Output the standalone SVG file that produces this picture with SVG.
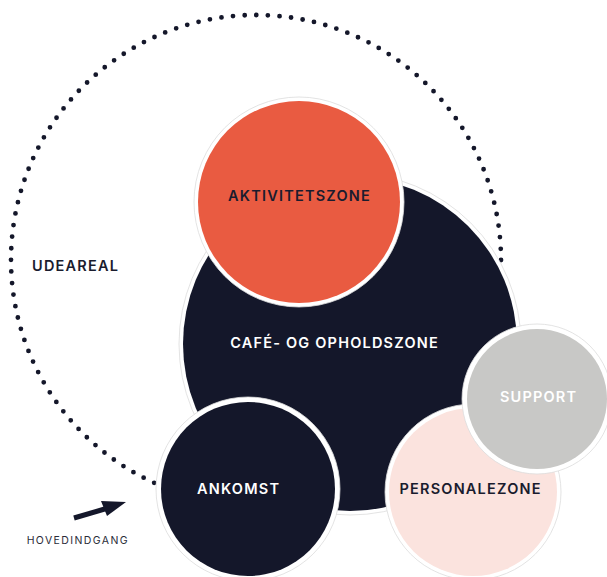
<svg xmlns="http://www.w3.org/2000/svg" width="607" height="577" viewBox="0 0 607 577">
<style>
.ring{fill:#fff;stroke:#dcdcdc;stroke-width:0.8}
.lbl{font-family:Inter,"Liberation Sans",sans-serif;font-weight:600;font-size:14.5px;letter-spacing:1.2px;text-anchor:middle;dominant-baseline:central}
.dark{fill:#1a1c2e}
.light{fill:#fff}
</style>
<rect width="607" height="577" fill="#fff"/>
<g id="connectors">
<circle cx="256" cy="260" r="245" fill="none" stroke="#14172a" stroke-width="4.8" stroke-linecap="round" stroke-dasharray="0 11.66"/>
<g id="arrow">
<line x1="74" y1="518" x2="108" y2="508" stroke="#14172a" stroke-width="5"/>
<polygon points="126,502 101,501 107,516" fill="#14172a"/>
</g>
</g>
<g id="udeareal"><text x="75.6" y="265" class="lbl dark">UDEAREAL</text></g>
<g id="hovedindgang"><text x="77.8" y="540" font-family="Inter,'Liberation Sans',sans-serif" font-size="10.5" letter-spacing="1.4" fill="#2a2c38" text-anchor="middle" dominant-baseline="central">HOVEDINDGANG</text></g>
<g id="cafe">
<circle cx="350" cy="344" r="171" class="ring"/>
<circle cx="350" cy="344" r="167" fill="#14172a"/>
<text x="334.6" y="342" class="lbl light">CAFÉ- OG OPHOLDSZONE</text>
</g>
<g id="aktivitetszone">
<circle cx="299" cy="202" r="105" class="ring"/>
<circle cx="299" cy="202" r="101" fill="#e95b41"/>
<text x="299.6" y="195" class="lbl dark">AKTIVITETSZONE</text>
</g>
<g id="ankomst">
<circle cx="248" cy="489" r="92" class="ring"/>
<circle cx="248" cy="489" r="87" fill="#14172a"/>
<text x="238.6" y="488" class="lbl light">ANKOMST</text>
</g>
<g id="personalezone">
<circle cx="473" cy="492" r="88" class="ring"/>
<circle cx="473" cy="492" r="84" fill="#fbe3de"/>
<text x="470.6" y="488" class="lbl dark">PERSONALEZONE</text>
</g>
<g id="support">
<circle cx="537" cy="399" r="75" class="ring"/>
<circle cx="537" cy="399" r="70" fill="#c8c8c6"/>
<text x="538.6" y="396" class="lbl light">SUPPORT</text>
</g>
</svg>
